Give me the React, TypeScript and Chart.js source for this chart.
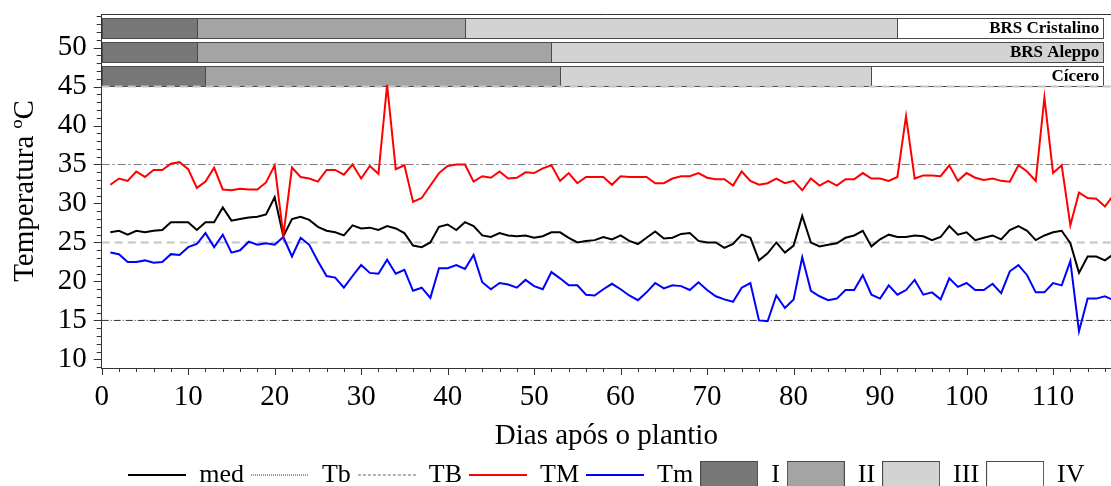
import React, { useEffect, useRef } from "react";
import { Chart, registerables } from "chart.js";

Chart.register(...registerables);

// ---- data ----
const tmValues = [
  32.4, 33.2, 32.9, 34.1, 33.4, 34.3, 34.3, 35.1, 35.3, 34.4,
  32.0, 32.8, 34.6, 31.8, 31.7, 31.9, 31.8, 31.8, 32.7, 34.9,
  25.9, 34.6, 33.4, 33.2, 32.8, 34.3, 34.3, 33.7, 35.0, 33.2,
  34.8, 33.8, 45.2, 34.4, 34.9, 30.2, 30.7, 32.3, 33.9, 34.8,
  35.0, 35.0, 32.8, 33.5, 33.3, 34.1, 33.2, 33.3, 34.0, 33.9,
  34.5, 34.9, 32.9, 33.9, 32.6, 33.4, 33.4, 33.4, 32.4, 33.5,
  33.4, 33.4, 33.4, 32.6, 32.6, 33.2, 33.5, 33.5, 33.9, 33.3,
  33.1, 33.1, 32.3, 34.1, 32.9, 32.4, 32.6, 33.2, 32.6, 32.9,
  31.7, 33.2, 32.3, 32.9, 32.3, 33.1, 33.1, 33.9, 33.2, 33.2,
  32.9, 33.4, 41.2, 33.2, 33.6, 33.6, 33.5, 34.9, 32.9, 33.9,
  33.3, 33.0, 33.2, 32.9, 32.8, 34.9, 34.1, 32.9, 43.6, 33.9,
  34.9, 27.2, 31.4, 30.7, 30.6, 29.6, 31.1,
];

const medValues = [
  26.3, 26.5, 26.0, 26.5, 26.3, 26.5, 26.6, 27.6, 27.6, 27.6,
  26.6, 27.6, 27.6, 29.5, 27.8, 28.0, 28.2, 28.3, 28.6, 30.8,
  25.8, 28.0, 28.3, 27.9, 27.0, 26.5, 26.3, 25.9, 27.2, 26.8,
  26.9, 26.6, 27.1, 26.8, 26.2, 24.6, 24.4, 25.0, 27.0, 27.3,
  26.6, 27.6, 27.1, 25.9, 25.7, 26.2, 25.9, 25.8, 25.9, 25.6,
  25.8, 26.3, 26.3, 25.6, 25.0, 25.2, 25.3, 25.7, 25.4, 25.9,
  25.2, 24.8, 25.6, 26.4, 25.5, 25.6, 26.1, 26.2, 25.2, 25.0,
  25.0, 24.3, 24.8, 26.0, 25.6, 22.7, 23.6, 25.0, 23.7, 24.6,
  28.4, 25.0, 24.5, 24.7, 24.9, 25.6, 25.9, 26.5, 24.5, 25.4,
  26.0, 25.7, 25.7, 25.9, 25.8, 25.3, 25.7, 27.1, 26.0, 26.3,
  25.3, 25.6, 25.9, 25.4, 26.6, 27.1, 26.5, 25.3, 25.9, 26.3,
  26.5, 24.9, 21.1, 23.2, 23.2, 22.7, 23.5,
];

const tminValues = [
  23.7, 23.5, 22.5, 22.5, 22.7, 22.4, 22.5, 23.5, 23.4, 24.4,
  24.8, 26.2, 24.4, 26.0, 23.7, 24.0, 25.1, 24.7, 24.9, 24.7,
  25.7, 23.2, 25.6, 24.7, 22.6, 20.7, 20.5, 19.2, 20.7, 22.1,
  21.1, 21.0, 22.8, 21.0, 21.5, 18.8, 19.2, 17.9, 21.7, 21.7,
  22.1, 21.6, 23.4, 19.9, 19.0, 19.8, 19.6, 19.2, 20.2, 19.4,
  19.0, 21.2, 20.4, 19.5, 19.5, 18.3, 18.2, 19.0, 19.7, 19.0,
  18.2, 17.6, 18.6, 19.8, 19.1, 19.5, 19.4, 18.9, 19.9, 18.9,
  18.1, 17.7, 17.4, 19.2, 19.8, 15.0, 14.9, 18.2, 16.6, 17.7,
  23.1, 18.8, 18.1, 17.6, 17.8, 18.9, 18.9, 20.8, 18.3, 17.8,
  19.5, 18.3, 18.9, 20.2, 18.3, 18.6, 17.7, 20.4, 19.3, 19.8,
  18.9, 18.9, 19.7, 18.5, 21.3, 22.1, 20.8, 18.6, 18.6, 19.8,
  19.5, 22.6, 13.6, 17.8, 17.8, 18.1, 17.6,
];

const firstDay = 1;
const xMin = 0;
const xMax = 116.7;
const yMin = 8.9;
const yMax = 54.3;
const xTickValues = [0, 10, 20, 30, 40, 50, 60, 70, 80, 90, 100, 110];
const yTickValues = [10, 15, 20, 25, 30, 35, 40, 45, 50];

const tbLower = 15; // Tb
const tbUpper = 35; // TB
const guideLevels = [25, 45];

const varieties = ["BRS Cristalino", "BRS Aleppo", "Cícero"];
const cristalinoStages = [0, 11, 42, 92, 115.8];
const aleppoStages = [0, 11, 52, 115.8];
const ciceroStages = [0, 12, 53, 89, 115.8];
const stageBands = [
  [51.25, 53.75],
  [48.2, 50.7],
  [45.1, 47.6],
];
const stageNames = ["I", "II", "III", "IV"];
const stageColors = ["#787878", "#a4a4a4", "#d3d3d3", "#ffffff"];

const FONT = '"Liberation Serif", "Times New Roman", serif';

const toPoints = (vals: number[]) => vals.map((v, i) => ({ x: firstDay + i, y: v }));
const hLine = (v: number) => [
  { x: xMin, y: v },
  { x: xMax, y: v },
];

const phasePlugin = {
  id: "phases",
  beforeDatasetsDraw(chart: any) {
    const { ctx, scales } = chart;
    const x = scales.x;
    const y = scales.y;
    const sets = [cristalinoStages, aleppoStages, ciceroStages];
    ctx.save();
    sets.forEach((bounds, i) => {
      const [lo, hi] = stageBands[i];
      const yTop = Math.round(y.getPixelForValue(hi));
      const yBot = Math.round(y.getPixelForValue(lo));
      for (let k = 0; k < bounds.length - 1; k++) {
        const x0 = Math.round(x.getPixelForValue(bounds[k]));
        const x1 = Math.round(x.getPixelForValue(bounds[k + 1]));
        ctx.fillStyle = stageColors[k];
        ctx.fillRect(x0, yTop, x1 - x0, yBot - yTop);
        ctx.strokeStyle = "#4a4a4a";
        ctx.lineWidth = 1;
        ctx.strokeRect(x0 + 0.5, yTop + 0.5, x1 - x0, yBot - yTop);
      }
      ctx.font = `bold 17px ${FONT}`;
      ctx.textAlign = "right";
      ctx.textBaseline = "middle";
      ctx.fillStyle = "#000";
      const xr = x.getPixelForValue(bounds[bounds.length - 1]);
      ctx.fillText(varieties[i], xr - 4, (yTop + yBot) / 2 + 1);
    });
    ctx.restore();
  },
};

const ticksPlugin = {
  id: "axisTicks",
  afterDraw(chart: any) {
    const { ctx, chartArea, scales } = chart;
    const x = scales.x;
    const y = scales.y;
    ctx.save();
    ctx.strokeStyle = "#333";
    ctx.lineWidth = 1;
    ctx.beginPath();
    ctx.moveTo(chartArea.left, Math.round(chartArea.top) + 0.5);
    ctx.lineTo(chartArea.right, Math.round(chartArea.top) + 0.5);
    for (let v = Math.ceil(yMin); v <= Math.floor(yMax); v++) {
      const py = Math.round(y.getPixelForValue(v)) + 0.5;
      const len = v % 5 === 0 ? 8 : 5;
      ctx.moveTo(chartArea.left - len, py);
      ctx.lineTo(chartArea.left, py);
    }
    for (let d = 0; d <= Math.floor(xMax); d += 2) {
      const px = Math.round(x.getPixelForValue(d)) + 0.5;
      const len = d % 10 === 0 ? 7 : 4;
      ctx.moveTo(px, chartArea.bottom);
      ctx.lineTo(px, chartArea.bottom + len);
    }
    ctx.stroke();
    ctx.restore();
  },
};

function lineSymbol(color: string, dash: number[], width: number) {
  const c = document.createElement("canvas");
  c.width = 58;
  c.height = 8;
  const g = c.getContext("2d")!;
  g.strokeStyle = color;
  g.lineWidth = width;
  g.setLineDash(dash);
  g.beginPath();
  g.moveTo(0, 4);
  g.lineTo(58, 4);
  g.stroke();
  return c;
}

function boxSymbol(fill: string) {
  const c = document.createElement("canvas");
  c.width = 58;
  c.height = 28;
  const g = c.getContext("2d")!;
  g.fillStyle = fill;
  g.fillRect(0, 0, 58, 28);
  g.strokeStyle = "#4a4a4a";
  g.lineWidth = 1;
  g.strokeRect(0.5, 0.5, 57, 27);
  return c;
}

export default function App() {
  const ref = useRef<HTMLCanvasElement | null>(null);

  useEffect(() => {
    if (!ref.current) return;
    const legendItems = [
      { text: "med", pointStyle: lineSymbol("#000", [], 2) },
      { text: "Tb", pointStyle: lineSymbol("#333", [1, 1], 1) },
      { text: "TB", pointStyle: lineSymbol("#666", [3, 2], 1) },
      { text: "TM", pointStyle: lineSymbol("#ff0000", [], 2) },
      { text: "Tm", pointStyle: lineSymbol("#0000ff", [], 2) },
      ...stageNames.map((n, i) => ({ text: n, pointStyle: boxSymbol(stageColors[i]) })),
    ];

    const chart = new Chart(ref.current, {
      type: "line",
      data: {
        datasets: [
          { label: "TM", data: toPoints(tmValues), borderColor: "#ff0000", borderWidth: 2, pointRadius: 0, tension: 0, order: 0 },
          { label: "med", data: toPoints(medValues), borderColor: "#000000", borderWidth: 2, pointRadius: 0, tension: 0, order: 1 },
          { label: "Tm", data: toPoints(tminValues), borderColor: "#0000ff", borderWidth: 2, pointRadius: 0, tension: 0, order: 2 },
          { label: "Tb", data: hLine(tbLower), borderColor: "#333", borderWidth: 1, borderDash: [7, 2, 1, 2], pointRadius: 0, order: 3 },
          { label: "TB", data: hLine(tbUpper), borderColor: "#7a7a7a", borderWidth: 1, borderDash: [8, 3, 2, 3], pointRadius: 0, order: 4 },
          ...guideLevels.map((g, i) => ({
            label: "guide" + i,
            data: hLine(g),
            borderColor: "#c4c4c4",
            borderWidth: 2,
            borderDash: [8, 5],
            pointRadius: 0,
            order: 5 + i,
          })),
        ],
      },
      options: {
        responsive: false,
        animation: false,
        events: [],
        layout: { padding: { left: 0, right: 0, top: 14, bottom: -12 } },
        plugins: {
          tooltip: { enabled: false },
          legend: {
            position: "bottom",
            fullSize: false,
            labels: {
              usePointStyle: true,
              pointStyleWidth: 58,
              boxHeight: 26,
              padding: 7,
              color: "#000",
              font: { family: FONT, size: 26 },
              generateLabels: () =>
                legendItems.map((it) => ({
                  text: it.text,
                  pointStyle: it.pointStyle as any,
                  fillStyle: "#fff",
                  strokeStyle: "#000",
                  lineWidth: 0,
                  hidden: false,
                  fontColor: "#000",
                })),
            },
          },
        },
        scales: {
          x: {
            type: "linear",
            min: xMin,
            max: xMax,
            afterBuildTicks: (s: any) => {
              s.ticks = xTickValues.map((v) => ({ value: v }));
            },
            afterFit: (s: any) => {
              s.height = 87;
              s.paddingLeft = 0;
              s.paddingRight = 0;
              s.paddingTop = 0;
              s.paddingBottom = 0;
            },
            ticks: { color: "#000", font: { family: FONT, size: 29 }, padding: 12, autoSkip: false, maxRotation: 0 },
            grid: { display: false, drawTicks: false },
            border: { display: true, color: "#333", width: 1 },
            title: {
              display: true,
              text: "Dias após o plantio",
              color: "#000",
              font: { family: FONT, size: 29 },
              padding: { top: 0, bottom: 1 },
            },
          },
          y: {
            type: "linear",
            min: yMin,
            max: yMax,
            afterBuildTicks: (s: any) => {
              s.ticks = yTickValues.map((v) => ({ value: v }));
            },
            afterFit: (s: any) => {
              s.width = 101.7;
              s.paddingLeft = 0;
              s.paddingRight = 0;
              s.paddingTop = 0;
              s.paddingBottom = 0;
            },
            ticks: { color: "#000", font: { family: FONT, size: 29 }, padding: 15, autoSkip: false },
            grid: { display: false, drawTicks: false },
            border: { display: true, color: "#333", width: 1 },
            title: {
              display: true,
              text: "Temperatura ºC",
              color: "#000",
              font: { family: FONT, size: 29 },
              padding: { top: 8, bottom: 0 },
            },
          },
        },
      },
      plugins: [phasePlugin, ticksPlugin],
    } as any);
    return () => chart.destroy();
  }, []);

  return (
    <div style={{ position: "fixed", left: 0, top: 0, width: 1111, height: 486, background: "#fff" }}>
      <canvas ref={ref} width={1111} height={486} style={{ display: "block", width: 1111, height: 486 }} />
    </div>
  );
}
